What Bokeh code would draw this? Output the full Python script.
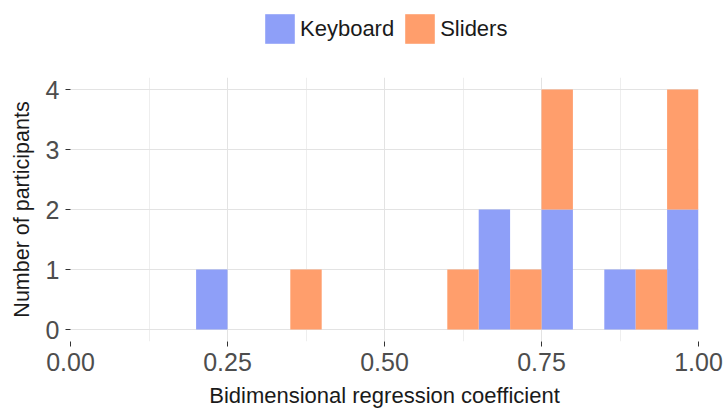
from bokeh.plotting import figure
from bokeh.layouts import column
from bokeh.models import Range1d, ColumnDataSource, Legend, LegendItem, FixedTicker
from bokeh.embed import file_html
from bokeh.resources import INLINE

# Histogram bins (width 0.05) and counts per group
bin_left = [round(i * 0.05, 2) for i in range(20)]
keyboard = [0, 0, 0, 0, 1, 0, 0, 0, 0, 0, 0, 0, 0, 2, 0, 2, 0, 1, 0, 2]
sliders = [0, 0, 0, 0, 0, 0, 0, 1, 0, 0, 0, 0, 1, 0, 1, 2, 0, 0, 1, 2]
groups = ["Keyboard", "Sliders"]
x_ticks = [0.0, 0.25, 0.5, 0.75, 1.0]
x_tick_labels = ["0.00", "0.25", "0.50", "0.75", "1.00"]
y_ticks = [0, 1, 2, 3, 4]

BLUE = "#8e9ff8"
ORANGE = "#ff9e6c"
COLORS = [BLUE, ORANGE]
FONT = "Liberation Sans"

src = ColumnDataSource(dict(
    mid=[b + 0.025 for b in bin_left],
    Keyboard=keyboard,
    Sliders=sliders,
))

# ---- legend strip (its ranges keep the bars themselves out of view) ----
leg = figure(width=723, height=60, x_range=Range1d(5, 6), y_range=Range1d(5, 6),
             output_backend="svg", toolbar_location=None,
             x_axis_type=None, y_axis_type=None,
             min_border_left=70, min_border_right=25, min_border_top=0, min_border_bottom=0)
leg.outline_line_color = None
leg.xgrid.visible = False
leg.ygrid.visible = False
leg_rs = leg.vbar_stack(groups, x="mid", width=0.05, source=src, color=COLORS, line_width=0)
legend = Legend(items=[LegendItem(label=g, renderers=[r]) for g, r in zip(groups, leg_rs)],
                orientation="horizontal", location=(191, 13),
                glyph_width=37, glyph_height=37, label_standoff=2, spacing=7,
                label_text_font=FONT, label_text_font_size="22px",
                label_text_color="#1a1a1a", label_height=37,
                border_line_color=None, background_fill_alpha=0,
                padding=0, margin=0)
leg.add_layout(legend, "center")

# ---- main plot ----
p = figure(width=723, height=350, x_range=Range1d(0, 1), y_range=Range1d(-0.2, 4.2),
           output_backend="svg", toolbar_location=None,
           min_border_left=70, min_border_right=25, min_border_top=17, min_border_bottom=69)
p.outline_line_color = None

rs = p.vbar_stack(groups, x="mid", width=0.05, source=src,
                  color=COLORS, line_width=0)

# grids
p.xgrid.ticker = FixedTicker(ticks=x_ticks, minor_ticks=[0.125, 0.375, 0.625, 0.875])
p.xgrid.grid_line_color = "#e3e3e3"
p.xgrid.grid_line_width = 1
p.xgrid.minor_grid_line_color = "#eeeeee"
p.xgrid.minor_grid_line_width = 1
p.ygrid.ticker = FixedTicker(ticks=y_ticks)
p.ygrid.grid_line_color = "#e3e3e3"
p.ygrid.grid_line_width = 1

# axes
p.xaxis.ticker = FixedTicker(ticks=x_ticks)
p.xaxis.major_label_overrides = {t: l for t, l in zip(x_ticks, x_tick_labels)}
p.yaxis.ticker = FixedTicker(ticks=y_ticks)
for ax in (p.xaxis, p.yaxis):
    ax.axis_line_color = None
    ax.minor_tick_line_color = None
    ax.major_tick_in = 0
    ax.major_tick_out = 5
    ax.major_tick_line_color = "#333333"
    ax.major_label_text_font = FONT
    ax.major_label_text_font_size = "25px"
    ax.major_label_text_color = "#4d4d4d"
    ax.axis_label_text_font = FONT
    ax.axis_label_text_font_style = "normal"
    ax.axis_label_text_color = "#1a1a1a"
p.xaxis.axis_label = "Bidimensional regression coefficient"
p.yaxis.axis_label = "Number of participants"
p.xaxis.axis_label_text_font_size = "22px"
p.yaxis.axis_label_text_font_size = "21.5px"
p.xaxis.major_label_standoff = 6
p.yaxis.major_label_standoff = 6
p.xaxis.axis_label_standoff = 9
p.yaxis.axis_label_standoff = 9

open("out.html", "w").write(file_html(column(leg, p, spacing=0), INLINE))
